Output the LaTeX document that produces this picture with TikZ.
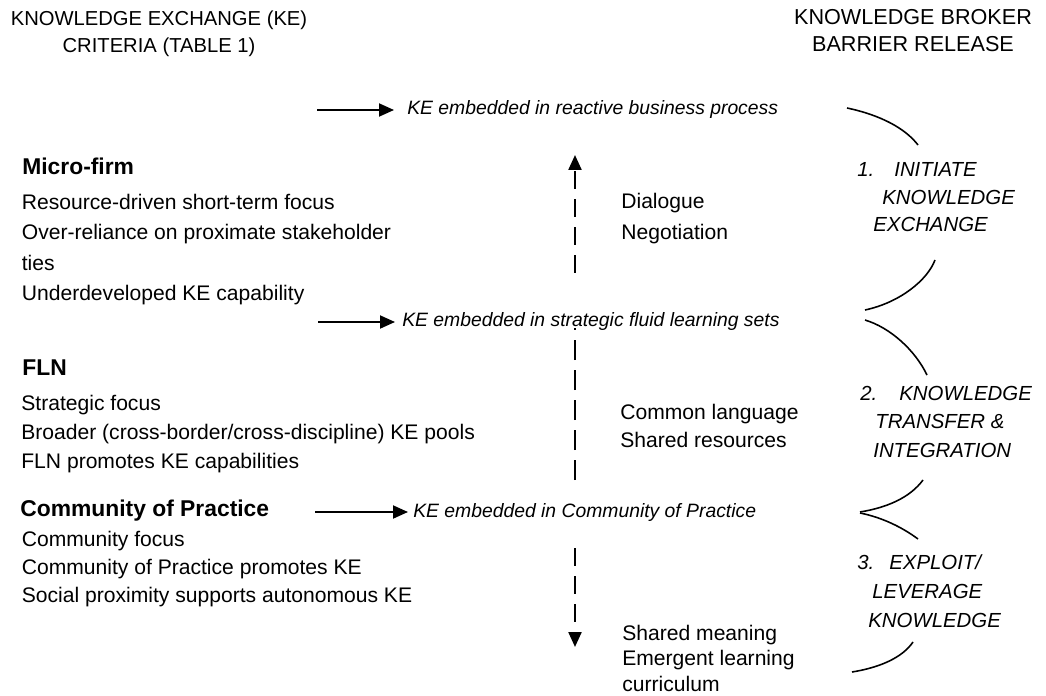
\documentclass[tikz,border=0pt]{standalone}
\usepackage{fontspec}
\setmainfont{Liberation Sans}
\usetikzlibrary{arrows.meta}

\begin{document}
\begin{tikzpicture}[
  ttl/.style={align=center, anchor=north, inner sep=0pt},
  head/.style={font=\fontsize{13}{15}\selectfont\bfseries, anchor=base west, inner sep=0pt},
  crit/.style={align=left, anchor=north west, inner sep=0pt},
  ke/.style={font=\fontsize{11}{13}\selectfont\itshape, anchor=base west, inner sep=0pt},
  stage/.style={align=left, anchor=north west, inner sep=0pt},
  ar/.style={-{Triangle[length=3mm,width=2.6mm]}, line width=1.1pt},
  dar/.style={ar, line width=1.3pt, dash pattern=on 3.6mm off 2mm},
  dashln/.style={line width=1.3pt, dash pattern=on 4mm off 2mm},
  brk/.style={line width=0.9pt},
]
\useasboundingbox (0,0) rectangle (20.92,-13.92);

% column titles
\node[ttl, font=\fontsize{11.5}{15.3}\selectfont] (ltitle) at (3.18,-0.21) {KNOWLEDGE EXCHANGE (KE)\\CRITERIA (TABLE 1)};
\node[ttl, font=\fontsize{12.3}{15.3}\selectfont] (rtitle) at (18.26,-0.19) {KNOWLEDGE BROKER\\BARRIER RELEASE};

% KE criteria
\node[head] (micro) at (0.44,-3.50) {Micro-firm};
\node[crit, font=\fontsize{12}{17.4}\selectfont] (microlist) at (0.43,-3.87) {Resource-driven short-term focus\\Over-reliance on proximate stakeholder\\ties\\Underdeveloped KE capability};
\node[head] (fln) at (0.44,-7.52) {FLN};
\node[crit, font=\fontsize{12}{16.7}\selectfont] (flnlist) at (0.42,-7.89) {Strategic focus\\Broader (cross-border/cross-discipline) KE pools\\FLN promotes KE capabilities};
\node[head] (cop) at (0.40,-10.32) {Community of Practice};
\node[crit, font=\fontsize{12}{15.9}\selectfont] (coplist) at (0.43,-10.61) {Community focus\\Community of Practice promotes KE\\Social proximity supports autonomous KE};

% embedded KE
\node[ke] (reactive) at (8.14,-2.30) {KE embedded in reactive business process};
\node[ke] (strat) at (8.04,-6.54) {KE embedded in strategic fluid learning sets};
\node[ke] (comm) at (8.26,-10.34) {KE embedded in Community of Practice};

\coordinate (t1) at (6.34,0);
\coordinate (t2) at (6.36,0);
\coordinate (t3) at (6.30,0);
\draw[ar, shorten >=2.6mm] (t1 |- reactive.west) -- (reactive.west);
\draw[ar, shorten >=1.4mm] (t2 |- strat.west) -- (strat.west);
\draw[ar, shorten >=1mm] (t3 |- comm.west) -- (comm.west);

% middle labels
\node[crit, font=\fontsize{12}{17.6}\selectfont] (dia) at (12.42,-3.85) {Dialogue\\Negotiation};
\node[crit, font=\fontsize{12}{15.9}\selectfont] (common) at (12.40,-8.07) {Common language\\Shared resources};
\node[crit, font=\fontsize{12}{14.5}\selectfont] (shared) at (12.44,-12.49) {Shared meaning\\Emergent learning\\curriculum};

% vertical dashed line
\coordinate (vtop) at (11.5,-3.10);
\coordinate (vupb) at (11.5,-5.46);
\coordinate (vmidt) at (11.5,-6.56);
\coordinate (vmidb) at (11.5,-9.60);
\coordinate (vlowt) at (11.5,-10.96);
\coordinate (vbot) at (11.5,-12.94);
\draw[dar] (vupb) -- (vtop);
\draw[dashln] (vmidb) -- (vmidt);
\draw[dar] (vlowt) -- (vbot);

% broker stages
\node[stage, font=\fontsize{11.6}{15.6}\selectfont\itshape] (stage1) at (17.14,-3.25) {1.\hspace{4mm}INITIATE\\\hspace*{5mm}KNOWLEDGE\\\hspace*{3.2mm}EXCHANGE};
\node[stage, font=\fontsize{11.6}{16.2}\selectfont\itshape] (stage2) at (17.20,-7.71) {2.\hspace{4.4mm}KNOWLEDGE\\\hspace*{3mm}TRANSFER \&\\\hspace*{2.6mm}INTEGRATION};
\node[stage, font=\fontsize{11.6}{16.4}\selectfont\itshape] (stage3) at (17.14,-11.09) {3.\hspace{3mm}EXPLOIT/\\\hspace*{3mm}LEVERAGE\\\hspace*{2.2mm}KNOWLEDGE};

% brackets
\draw[brk] (16.94,-2.16) .. controls (17.6,-2.30) and (18.1,-2.56) .. (18.36,-2.90);
\draw[brk] (18.70,-5.20) .. controls (18.55,-5.60) and (18.0,-6.05) .. (17.30,-6.20);
\draw[brk] (17.30,-6.40) .. controls (17.8,-6.55) and (18.3,-7.0) .. (18.54,-7.50);
\draw[brk] (18.46,-9.60) .. controls (18.2,-9.95) and (17.75,-10.15) .. (17.20,-10.24);
\draw[brk] (17.20,-10.26) .. controls (17.65,-10.35) and (18.05,-10.55) .. (18.36,-10.78);
\draw[brk] (18.26,-12.84) .. controls (18.05,-13.15) and (17.6,-13.35) .. (17.04,-13.44);
\end{tikzpicture}
\end{document}
